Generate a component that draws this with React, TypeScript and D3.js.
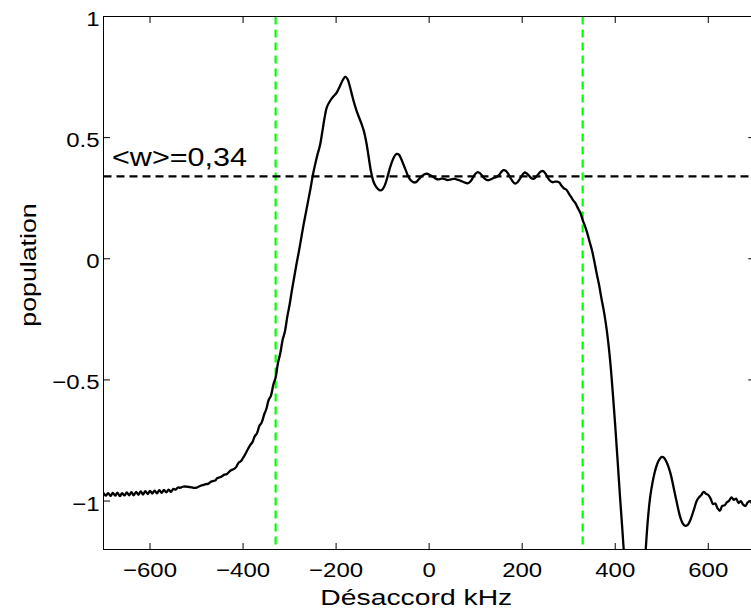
import React from "react";
import * as d3 from "d3";

const detuning = [
  -700,-695,-690,-685,-680,-675,-670,-665,-660,-655,-650,-645,-640,-635,-630,-625,-620,-615,-610,-605,
  -600,-595,-590,-585,-580,-575,-570,-565,-560,-555,-550,-545,-540,-535,-530,-525,-520,-515,-510,-505,
  -500,-495,-490,-485,-480,-475,-470,-465,-460,-455,-450,-445,-440,-435,-430,-425,-420,-415,-410,-405,
  -400,-395,-390,-385,-380,-375,-370,-365,-360,-355,-350,-345,-340,-335,-330,-325,-320,-315,-310,-305,
  -300,-295,-290,-285,-280,-275,-270,-265,-260,-255,-250,-245,-240,-235,-230,-225,-220,-215,-210,-205,
  -200,-195,-190,-185,-180,-175,-170,-165,-160,-155,-150,-145,-140,-135,-130,-125,-120,-115,-110,-105,
  -100,-95,-90,-85,-80,-75,-70,-65,-60,-55,-50,-45,-40,-35,-30,-25,-20,-15,-10,-5,
  0,5,10,15,20,25,30,35,40,45,50,55,60,65,70,75,80,85,90,95,
  100,105,110,115,120,125,130,135,140,145,150,155,160,165,170,175,180,185,190,195,
  200,205,210,215,220,225,230,235,240,245,250,255,260,265,270,275,280,285,290,295,
  300,305,310,315,320,325,330,335,340,345,350,355,360,365,370,375,380,385,390,395,
  400,405,410,415,420,425,430,440,450,458,464,470,475,480,485,490,495,
  500,505,510,515,520,525,530,535,540,545,550,555,560,565,570,575,580,585,590,595,
  600,605,610,615,620,625,630,635,640,645,650,655,660,665,670,675,680,685,690,695,700
];

const population = [
  -0.966,-0.978,-0.967,-0.979,-0.966,-0.978,-0.965,-0.980,-0.967,-0.977,-0.964,-0.976,-0.963,-0.977,-0.962,-0.974,-0.960,-0.973,-0.959,-0.971,
  -0.958,-0.969,-0.957,-0.968,-0.955,-0.966,-0.954,-0.964,-0.953,-0.962,-0.950,-0.953,-0.944,-0.945,-0.941,-0.940,-0.941,-0.942,-0.944,-0.946,
  -0.945,-0.940,-0.936,-0.933,-0.930,-0.929,-0.921,-0.918,-0.915,-0.905,-0.902,-0.897,-0.891,-0.889,-0.880,-0.872,-0.868,-0.860,-0.843,-0.836,
  -0.822,-0.806,-0.787,-0.770,-0.757,-0.733,-0.720,-0.690,-0.676,-0.645,-0.620,-0.583,-0.565,-0.520,-0.490,-0.430,-0.390,-0.335,-0.300,-0.240,
  -0.190,-0.130,-0.075,-0.020,0.030,0.085,0.140,0.190,0.240,0.290,0.345,0.390,0.430,0.465,0.520,0.580,0.625,0.645,0.660,0.672,
  0.682,0.700,0.720,0.740,0.752,0.740,0.708,0.670,0.635,0.605,0.580,0.555,0.525,0.480,0.420,0.360,0.320,0.300,0.288,0.282,
  0.287,0.305,0.335,0.370,0.400,0.422,0.433,0.430,0.412,0.388,0.364,0.340,0.325,0.317,0.315,0.322,0.333,0.342,0.349,0.351,
  0.348,0.342,0.336,0.330,0.328,0.330,0.331,0.328,0.325,0.327,0.329,0.330,0.327,0.324,0.320,0.316,0.312,0.313,0.322,0.338,
  0.352,0.358,0.352,0.340,0.330,0.325,0.326,0.330,0.335,0.338,0.345,0.358,0.366,0.363,0.350,0.333,0.318,0.310,0.316,0.330,
  0.345,0.356,0.352,0.342,0.332,0.330,0.338,0.350,0.360,0.362,0.352,0.335,0.322,0.316,0.318,0.318,0.314,0.300,0.290,0.285,
  0.270,0.255,0.240,0.228,0.208,0.190,0.160,0.135,0.105,0.070,0.035,-0.010,-0.060,-0.105,-0.160,-0.210,-0.270,-0.345,-0.440,-0.560,
  -0.690,-0.830,-0.975,-1.110,-1.250,-1.380,-1.480,-1.560,-1.500,-1.380,-1.240,-1.080,-0.985,-0.925,-0.880,-0.848,-0.828,
  -0.818,-0.822,-0.838,-0.862,-0.895,-0.940,-0.985,-1.030,-1.068,-1.092,-1.102,-1.100,-1.085,-1.060,-1.030,-1.000,-0.985,-0.975,-0.962,-0.970,
  -0.975,-0.990,-1.012,-1.010,-1.030,-1.040,-1.020,-1.018,-1.005,-0.998,-0.985,-0.995,-0.990,-1.008,-1.000,-1.015,-1.020,-1.005,-1.000,-1.012,-1.000
];

const xTicks = [-600, -400, -200, 0, 200, 400, 600];
const yTicks = [-1, -0.5, 0, 0.5, 1];
const xDomain = [-700, 700];
const yDomain = [-1.2, 1];
const markers = [-330, 330];
const meanW = 0.34;
const meanLabel = "<w>=0,34";
const xLabel = "Désaccord kHz";
const yLabel = "population";

const fmt = (v: number) => {
  const s = String(v);
  return v < 0 ? "\u2212" + s.slice(1) : s;
};

const FONT = "'Liberation Sans', Arial, Helvetica, sans-serif";

export default function App() {
  const W = 751, H = 613;
  const left = 103.5, right = 754.8, top = 16.5, bottom = 549.5;
  const x = d3.scaleLinear().domain(xDomain).range([left, right]);
  const y = d3.scaleLinear().domain(yDomain).range([bottom, top]);
  const pts = detuning.map((d, i) => [d, population[i]] as [number, number]);
  const line = d3.line<[number, number]>()
    .x(d => x(d[0]))
    .y(d => y(d[1]))
    .curve(d3.curveCatmullRom.alpha(0.5));
  const tl = 6.5;
  const tickFs = 20.5, tickSx = 1.17;

  return (
    <svg width={W} height={H} style={{ position: "absolute", left: 0, top: 0, display: "block", background: "#fff" }}>
      <defs>
        <clipPath id="plotclip">
          <rect x={left} y={top} width={right - left} height={bottom - top} />
        </clipPath>
      </defs>
      <rect x={0} y={0} width={W} height={H} fill="#fff" />
      {/* ticks */}
      {xTicks.map(t => (
        <g key={"xt" + t}>
          <line x1={x(t)} x2={x(t)} y1={bottom} y2={bottom - tl} stroke="#000" strokeWidth={1} />
          <line x1={x(t)} x2={x(t)} y1={top} y2={top + tl} stroke="#000" strokeWidth={1} />
          <text transform={`translate(${x(t)},${576.7}) scale(${tickSx},1)`} textAnchor="middle"
            fontFamily={FONT} fontSize={tickFs} fill="#000">{fmt(t)}</text>
        </g>
      ))}
      {yTicks.map(t => (
        <g key={"yt" + t}>
          <line x1={left} x2={left + tl} y1={y(t)} y2={y(t)} stroke="#000" strokeWidth={1} />
          <line x1={right} x2={right - tl} y1={y(t)} y2={y(t)} stroke="#000" strokeWidth={1} />
          <text transform={`translate(${99.5},${y(t) + 9.5}) scale(${tickSx},1)`} textAnchor="end"
            fontFamily={FONT} fontSize={tickFs} fill="#000">{fmt(t)}</text>
        </g>
      ))}
      <g clipPath="url(#plotclip)">
        {markers.map(m => (
          <line key={"m" + m} x1={x(m)} x2={x(m)} y1={top} y2={bottom}
            stroke="#00ff00" strokeWidth={2.2} strokeDasharray="8,5" />
        ))}
        <line x1={left} x2={right} y1={y(meanW)} y2={y(meanW)} stroke="#000" strokeWidth={2.2} strokeDasharray="8,5" />
        <path d={line(pts) || ""} fill="none" stroke="#000" strokeWidth={2.3} strokeLinejoin="round" />
      </g>
      <rect x={left} y={top} width={right - left} height={bottom - top} fill="none" stroke="#000" strokeWidth={1} />
      <text transform={`translate(112,165.7) scale(1.175,1)`} fontFamily={FONT} fontSize={26} fill="#000">{meanLabel}</text>
      <text transform={`translate(416.3,605.3) scale(1.27,1)`} textAnchor="middle" fontFamily={FONT} fontSize={22.3} fill="#000">{xLabel}</text>
      <text transform={`translate(36,265) rotate(-90) scale(1.2,1)`} textAnchor="middle" fontFamily={FONT} fontSize={22.3} fill="#000">{yLabel}</text>
    </svg>
  );
}
